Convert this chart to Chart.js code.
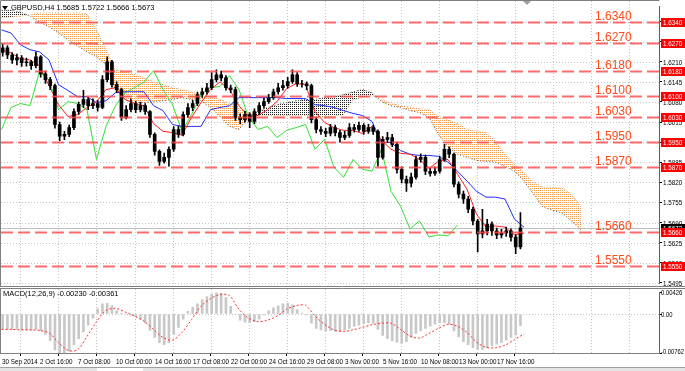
<!DOCTYPE html>
<html lang="en">
<head>
<meta charset="UTF-8" />
<title>GBPUSD,H4</title>
<script src="https://cdn.jsdelivr.net/npm/chart.js"></script>
<style>
  html, body { margin: 0; padding: 0; background: #fff; }
  #wrap { position: relative; width: 685px; height: 371px; overflow: hidden; background: #fff; }
  #priceChart { position: absolute; left: 0; top: 0; }
  #macdChart { position: absolute; left: 0; top: 288px; }
</style>
</head>
<body>
<div id="wrap">
  <canvas id="priceChart" width="685" height="288" style="width:685px;height:288px"></canvas>
  <canvas id="macdChart" width="685" height="83" style="width:685px;height:83px"></canvas>
</div>

<script>
// ---- data ----
const timeLabels = ["30 Sep 2014", "2 Oct 16:00", "7 Oct 08:00", "10 Oct 00:00", "14 Oct 16:00",
  "17 Oct 08:00", "22 Oct 00:00", "24 Oct 16:00", "29 Oct 08:00", "3 Nov 00:00", "5 Nov 16:00",
  "10 Nov 08:00", "13 Nov 00:00", "17 Nov 16:00"];

const priceTicks = [1.6340, 1.6275, 1.6210, 1.6145, 1.6080, 1.6015, 1.5950, 1.5885, 1.5820,
  1.5755, 1.5690, 1.5625, 1.5560, 1.5495];
const levels = [1.6340, 1.6270, 1.6180, 1.6100, 1.6030, 1.5950, 1.5870, 1.5660, 1.5550];
const lastPrice = 1.5673;
const macdTicks = [0.00426, 0, -0.00762];
const macdTickLabels = ["0.00426", "0.00", "-0.00762"];

// one candle = two H4 bars
const opens = [1.6240,1.6255,1.6232,1.6216,1.6223,1.6207,1.6210,1.6197,1.6226,1.6171,
  1.6152,1.6133,1.6007,1.5969,1.5975,1.5997,1.6049,1.6072,1.6088,1.6068,
  1.6075,1.6062,1.6152,1.6210,1.6136,1.6120,1.6030,1.6055,1.6075,1.6055,
  1.6068,1.6049,1.5975,1.5920,1.5888,1.5901,1.5927,1.5991,1.5975,1.6039,
  1.6062,1.6075,1.6104,1.6113,1.6126,1.6152,1.6168,1.6158,1.6126,1.6120,
  1.6030,1.6023,1.6039,1.6017,1.6049,1.6068,1.6081,1.6094,1.6113,1.6126,
  1.6133,1.6146,1.6168,1.6139,1.6139,1.6133,1.6023,1.5991,1.5985,1.5978,
  1.5997,1.5981,1.5965,1.5972,1.5997,1.5991,1.6004,1.5985,1.5997,1.5985,
  1.5901,1.5959,1.5965,1.5943,1.5862,1.5830,1.5817,1.5837,1.5894,1.5901,
  1.5856,1.5849,1.5856,1.5894,1.5927,1.5911,1.5814,1.5782,1.5766,1.5733,
  1.5695,1.5653,1.5663,1.5685,1.5663,1.5650,1.5656,1.5663,1.5643,1.5611];
const highs = [1.6268,1.6262,1.6240,1.6235,1.6230,1.6222,1.6215,1.6242,1.6230,1.6180,
  1.6160,1.6138,1.6015,1.5985,1.6005,1.6058,1.6080,1.6118,1.6095,1.6090,
  1.6085,1.6165,1.6226,1.6215,1.6145,1.6125,1.6068,1.6090,1.6082,1.6080,
  1.6075,1.6052,1.5980,1.5925,1.5915,1.5935,1.6000,1.6002,1.6048,1.6075,
  1.6085,1.6112,1.6125,1.6140,1.6175,1.6184,1.6180,1.6165,1.6135,1.6128,
  1.6042,1.6050,1.6045,1.6058,1.6078,1.6092,1.6105,1.6122,1.6140,1.6150,
  1.6160,1.6184,1.6175,1.6150,1.6145,1.6138,1.6030,1.6000,1.5995,1.6008,
  1.6005,1.5988,1.5985,1.6010,1.6008,1.6015,1.6010,1.6008,1.6005,1.5990,
  1.5968,1.5982,1.5975,1.5950,1.5870,1.5840,1.5850,1.5905,1.5912,1.5908,
  1.5865,1.5870,1.5905,1.5943,1.5935,1.5915,1.5822,1.5792,1.5775,1.5740,
  1.5700,1.5733,1.5700,1.5692,1.5672,1.5668,1.5675,1.5670,1.5650,1.5722];
const lows = [1.6228,1.6220,1.6205,1.6200,1.6195,1.6196,1.6185,1.6190,1.6160,1.6140,
  1.6120,1.5995,1.5955,1.5958,1.5968,1.5990,1.6040,1.6062,1.6055,1.6058,
  1.6050,1.6058,1.6145,1.6128,1.6110,1.6020,1.6025,1.6048,1.6045,1.6048,
  1.6040,1.5965,1.5908,1.5875,1.5882,1.5872,1.5920,1.5965,1.5970,1.6030,
  1.6052,1.6068,1.6095,1.6105,1.6120,1.6145,1.6148,1.6118,1.6110,1.6020,
  1.6010,1.6015,1.5997,1.6010,1.6040,1.6060,1.6075,1.6088,1.6105,1.6118,
  1.6125,1.6140,1.6130,1.6128,1.6120,1.6012,1.5980,1.5975,1.5968,1.5970,
  1.5970,1.5950,1.5958,1.5965,1.5982,1.5985,1.5975,1.5978,1.5975,1.5872,
  1.5895,1.5950,1.5935,1.5850,1.5818,1.5791,1.5805,1.5830,1.5885,1.5845,
  1.5840,1.5842,1.5850,1.5888,1.5900,1.5805,1.5770,1.5752,1.5722,1.5682,
  1.5595,1.5640,1.5650,1.5648,1.5638,1.5640,1.5645,1.5630,1.5589,1.5605];
const closes = [1.6255,1.6232,1.6216,1.6223,1.6207,1.6210,1.6197,1.6226,1.6171,1.6152,
  1.6133,1.6007,1.5969,1.5975,1.5997,1.6049,1.6072,1.6088,1.6068,1.6075,
  1.6062,1.6152,1.6210,1.6136,1.6120,1.6030,1.6055,1.6075,1.6055,1.6068,
  1.6049,1.5975,1.5920,1.5888,1.5901,1.5927,1.5991,1.5975,1.6039,1.6062,
  1.6075,1.6104,1.6113,1.6126,1.6152,1.6168,1.6158,1.6126,1.6120,1.6030,
  1.6023,1.6039,1.6017,1.6049,1.6068,1.6081,1.6094,1.6113,1.6126,1.6133,
  1.6146,1.6168,1.6139,1.6139,1.6133,1.6023,1.5991,1.5985,1.5978,1.5997,
  1.5981,1.5965,1.5972,1.5997,1.5991,1.6004,1.5985,1.5997,1.5985,1.5901,
  1.5959,1.5965,1.5943,1.5862,1.5830,1.5817,1.5837,1.5894,1.5901,1.5856,
  1.5849,1.5856,1.5894,1.5927,1.5911,1.5814,1.5782,1.5766,1.5733,1.5695,
  1.5653,1.5663,1.5685,1.5663,1.5650,1.5656,1.5663,1.5643,1.5611,1.5673];

// ichimoku lines, one point every 4 bars
const tenkan = [1.6249,1.6239,1.6220,1.6216,1.6197,1.6133,1.6071,1.6033,1.6039,1.6062,
  1.6081,1.6120,1.6126,1.6088,1.6075,1.6068,1.6010,1.5985,1.5981,1.5972,
  1.6030,1.6078,1.6120,1.6145,1.6120,1.6068,1.6033,1.6036,1.6055,1.6081,
  1.6123,1.6139,1.6136,1.6049,1.6014,1.5997,1.5988,1.5988,1.5978,1.6001,
  1.5956,1.5927,1.5914,1.5911,1.5894,1.5865,1.5888,1.5894,1.5846,1.5798,
  1.5717,1.5675,1.5679,1.5675,1.5650,1.5656];
const kijun = [1.6313,1.6303,1.6265,1.6249,1.6242,1.6216,1.6136,1.6117,1.6097,1.6097,
  1.6078,1.6084,1.6110,1.6113,1.6113,1.6113,1.6068,1.6052,1.6007,1.6001,
  1.6001,1.6001,1.6055,1.6062,1.6068,1.6094,1.6094,1.6094,1.6094,1.6094,
  1.6091,1.6091,1.6091,1.6071,1.6068,1.6062,1.6052,1.6043,1.6036,1.6017,
  1.5949,1.5949,1.5923,1.5911,1.5907,1.5907,1.5904,1.5885,1.5856,1.5824,
  1.5791,1.5772,1.5772,1.5766,1.5701,1.5675];
const chikou = [1.5991,1.6062,1.6075,1.6068,1.6178,1.6152,1.6055,1.6081,1.6075,1.6055,
  1.5894,1.6001,1.6068,1.6110,1.6126,1.6145,1.6181,1.6120,1.6071,1.5985,
  1.6039,1.6104,1.6126,1.6130,1.6165,1.6120,1.6030,1.5991,1.6001,1.5965,
  1.5988,1.5997,1.6007,1.5927,1.5959,1.5869,1.5836,1.5894,1.5862,1.5856,
  1.5927,1.5791,1.5743,1.5669,1.5695,1.5643,1.5650,1.5647,1.5682];
const senkouA = [1.6377,1.6377,1.6371,1.6358,1.6339,1.6323,1.6303,1.6281,1.6262,1.6242,
  1.6226,1.6200,1.6120,1.6088,1.6078,1.6078,1.6081,1.6084,1.6088,1.6094,
  1.6088,1.6084,1.6062,1.6033,1.6001,1.5991,1.6030,1.6049,1.6062,1.6071,
  1.6078,1.6084,1.6088,1.6088,1.6094,1.6097,1.6104,1.6113,1.6120,1.6110,
  1.6081,1.6068,1.6062,1.6052,1.6046,1.6030,1.5975,1.5933,1.5911,1.5901,
  1.5891,1.5888,1.5885,1.5872,1.5856,1.5824,1.5782,1.5740,1.5730,1.5721,
  1.5695,1.5666];
const senkouB = [1.6352,1.6355,1.6358,1.6361,1.6368,1.6368,1.6368,1.6368,1.6368,1.6365,
  1.6313,1.6249,1.6184,1.6178,1.6168,1.6158,1.6145,1.6136,1.6126,1.6120,
  1.6113,1.6101,1.6097,1.6088,1.6075,1.6062,1.6046,1.6036,1.6036,1.6036,
  1.6036,1.6036,1.6036,1.6033,1.6033,1.6033,1.6039,1.6088,1.6094,1.6101,
  1.6088,1.6075,1.6068,1.6062,1.6058,1.6055,1.6033,1.6023,1.6010,1.5991,
  1.5985,1.5981,1.5952,1.5911,1.5878,1.5850,1.5820,1.5804,1.5804,1.5801,
  1.5782,1.5740];

// MACD(12,26,9): main per candle, signal every 4 bars
const macdMain = [-0.0030,-0.0030,-0.0030,-0.0030,-0.0031,-0.0031,-0.0032,-0.0030,-0.0033,-0.0040,
  -0.0052,-0.0070,-0.0077,-0.0077,-0.0073,-0.0060,-0.0048,-0.0035,-0.0022,-0.0008,
  0.0010,0.0020,0.0021,0.0016,0.0006,0.0002,0.0000,-0.0003,-0.0005,-0.0010,
  -0.0018,-0.0032,-0.0046,-0.0056,-0.0060,-0.0056,-0.0040,-0.0026,-0.0010,0.0005,
  0.0013,0.0020,0.0028,0.0034,0.0039,0.0042,0.0041,0.0032,0.0015,0.0000,
  -0.0012,-0.0016,-0.0017,-0.0015,-0.0010,-0.0002,0.0006,0.0012,0.0016,0.0020,
  0.0021,0.0018,0.0008,0.0002,-0.0002,-0.0018,-0.0028,-0.0031,-0.0033,-0.0032,
  -0.0034,-0.0034,-0.0031,-0.0028,-0.0024,-0.0022,-0.0019,-0.0017,-0.0018,-0.0030,
  -0.0042,-0.0048,-0.0052,-0.0055,-0.0057,-0.0054,-0.0046,-0.0038,-0.0033,-0.0028,
  -0.0024,-0.0020,-0.0017,-0.0017,-0.0020,-0.0033,-0.0045,-0.0054,-0.0060,-0.0066,
  -0.0069,-0.0069,-0.0066,-0.0062,-0.0059,-0.0056,-0.0051,-0.0046,-0.0041,-0.0023];
const macdSignal = [-0.0030,-0.0030,-0.0031,-0.0031,-0.0032,-0.0037,-0.0056,-0.0071,-0.0070,-0.0044,
  -0.0015,0.0007,0.0011,0.0004,-0.0004,-0.0014,-0.0030,-0.0046,-0.0051,-0.0036,
  -0.0011,0.0015,0.0030,0.0038,0.0036,0.0009,-0.0008,-0.0015,-0.0012,-0.0004,
  0.0009,0.0016,0.0017,-0.0004,-0.0020,-0.0031,-0.0034,-0.0031,-0.0026,-0.0021,
  -0.0018,-0.0018,-0.0030,-0.0043,-0.0047,-0.0038,-0.0028,-0.0020,-0.0024,-0.0036,
  -0.0055,-0.0065,-0.0066,-0.0061,-0.0050,-0.0039];

// ---- layout helpers ----
const xMin = -0.21, xMax = 276.84;        // bar index range, 2.375 px per H4 bar
const FONT = '"Liberation Sans", Arial, sans-serif';
const candleX = k => 2 * k + 0.5;
const lineX = k => 4 * k;
const pts = arr => arr.map((v, k) => ({ x: lineX(k), y: v }));

function dots(color) {
  const c = document.createElement('canvas');
  c.width = 2; c.height = 2;
  const g = c.getContext('2d');
  g.fillStyle = color;
  g.fillRect(0, 0, 1, 1);
  return g.createPattern(c, 'repeat');
}

// small, slightly condensed text (the original uses a narrow UI font)
function smallText(ctx, txt, x, y, color, squeeze) {
  ctx.save();
  ctx.font = '7.5px ' + FONT;
  ctx.fillStyle = color || '#000';
  ctx.textBaseline = 'middle';
  ctx.translate(x, y);
  ctx.scale(squeeze || 0.84, 1);
  ctx.fillText(txt, 0, 0);
  ctx.restore();
}

function vGrid(ctx, x, top, bottom) {
  ctx.save();
  ctx.strokeStyle = '#c4c4c4';
  ctx.lineWidth = 1;
  ctx.setLineDash([1, 2]);
  for (let i = 8; i < xMax; i += 16) {
    const px = Math.round(x.getPixelForValue(i)) + 0.5;
    ctx.beginPath(); ctx.moveTo(px, top); ctx.lineTo(px, bottom); ctx.stroke();
  }
  ctx.restore();
}

function lineDs(data, color, order, extra) {
  return Object.assign({ type: 'line', data: pts(data), borderColor: color, borderWidth: 1,
    pointRadius: 0, fill: false, tension: 0, order: order }, extra || {});
}

// ---- price pane ----
const priceDecor = {
  id: 'priceDecor',
  beforeDatasetsDraw(chart) {
    const { ctx, chartArea: a, scales: { x, y } } = chart;
    ctx.save();
    ctx.strokeStyle = '#c4c4c4';
    ctx.lineWidth = 1;
    ctx.setLineDash([1, 2]);
    priceTicks.forEach(v => {
      const py = Math.round(y.getPixelForValue(v)) + 0.5;
      ctx.beginPath(); ctx.moveTo(a.left, py); ctx.lineTo(a.right, py); ctx.stroke();
    });
    ctx.restore();
    vGrid(ctx, x, 1, 286);
    // bid line
    ctx.save();
    const by = Math.round(y.getPixelForValue(lastPrice)) + 0.5;
    ctx.strokeStyle = '#c0c0c0';
    ctx.beginPath(); ctx.moveTo(a.left, by); ctx.lineTo(a.right, by); ctx.stroke();
    ctx.restore();
  },
  afterDatasetsDraw(chart) {
    const { ctx, chartArea: a, scales: { y } } = chart;
    ctx.save();
    levels.forEach(v => {
      const py = Math.round(y.getPixelForValue(v)) + 0.5;
      ctx.strokeStyle = 'rgba(255,70,70,0.8)';
      ctx.lineWidth = 2;
      ctx.setLineDash([12, 5]);
      ctx.beginPath(); ctx.moveTo(a.left, py); ctx.lineTo(a.right, py); ctx.stroke();
      ctx.fillStyle = '#ff4a1a';
      ctx.font = '12px ' + FONT;
      ctx.textBaseline = 'alphabetic';
      ctx.fillText(v.toFixed(4), 595, py - 2.5);
    });
    ctx.restore();
  },
  afterDraw(chart) {
    const { ctx, scales: { y } } = chart;
    ctx.save();
    // frame
    ctx.strokeStyle = '#808080';
    ctx.lineWidth = 1;
    ctx.beginPath();
    ctx.moveTo(0.5, 286.5); ctx.lineTo(0.5, 0.5); ctx.lineTo(659.5, 0.5);
    ctx.moveTo(0, 286.5); ctx.lineTo(685, 286.5);
    ctx.stroke();
    // header
    ctx.fillStyle = '#000';
    ctx.beginPath(); ctx.moveTo(2, 6); ctx.lineTo(8, 6); ctx.lineTo(5, 10); ctx.closePath(); ctx.fill();
    ctx.font = '7.5px ' + FONT;
    ctx.textBaseline = 'middle';
    ctx.fillText('GBPUSD,H4 1.5685 1.5722 1.5666 1.5673', 11, 8);
    // chart shift marker
    ctx.fillStyle = '#a0a0a0';
    ctx.beginPath(); ctx.moveTo(523, 1); ctx.lineTo(531, 1); ctx.lineTo(527, 5); ctx.closePath(); ctx.fill();
    // price scale labels
    priceTicks.forEach(v => smallText(ctx, v.toFixed(4), 663, Math.round(y.getPixelForValue(v)) + 0.5));
    // bid label
    const by = Math.round(y.getPixelForValue(lastPrice));
    ctx.fillStyle = '#000';
    ctx.fillRect(661, by - 4, 24, 9);
    smallText(ctx, lastPrice.toFixed(4), 663, by + 0.5, '#fff');
    // level labels
    levels.forEach(v => {
      const py = Math.round(y.getPixelForValue(v));
      ctx.fillStyle = '#ff0000';
      ctx.fillRect(661, py - 4, 24, 9);
      smallText(ctx, v.toFixed(4), 663, py + 0.5, '#fff');
    });
    ctx.restore();
  }
};

const wicks = highs.map((h, k) => ({ x: candleX(k), y: [lows[k], h] }));
const bodies = opens.map((o, k) => ({ x: candleX(k), y: [Math.min(o, closes[k]), Math.max(o, closes[k])] }));

new Chart(document.getElementById('priceChart'), {
  type: 'bar',
  data: {
    datasets: [
      { data: bodies, backgroundColor: '#000', barThickness: 3, grouped: false, order: 1 },
      { data: wicks, backgroundColor: '#000', barThickness: 1, grouped: false, order: 2 },
      lineDs(tenkan, '#ff2020', 3),
      lineDs(kijun, '#2030ff', 4),
      lineDs(chikou, '#33e033', 5),
      lineDs(senkouA, '#555555', 6, {
        borderDash: [1, 2],
        fill: { target: '+1', above: dots('#202020'), below: dots('#f4a050') }
      }),
      lineDs(senkouB, '#f4a050', 7, { borderDash: [1, 2] })
    ]
  },
  options: {
    responsive: false,
    animation: false,
    events: [],
    layout: { padding: { left: 1, top: 6, right: 0, bottom: 3 } },
    plugins: { legend: { display: false }, tooltip: { enabled: false } },
    scales: {
      x: { type: 'linear', min: xMin, max: xMax, offset: false, display: false },
      y: {
        position: 'right', min: 1.54918, max: 1.63904,
        afterBuildTicks: s => { s.ticks = priceTicks.map(v => ({ value: v })); },
        afterFit: s => { s.width = 26; },
        ticks: { autoSkip: false, padding: 0, font: { size: 7, family: FONT }, callback: () => '' },
        grid: { drawOnChartArea: false, tickLength: 3, color: '#000' },
        border: { color: '#606060' }
      }
    }
  },
  plugins: [priceDecor]
});

// ---- MACD pane ----
const macdDecor = {
  id: 'macdDecor',
  beforeDatasetsDraw(chart) {
    const { ctx, chartArea: a, scales: { x, y } } = chart;
    vGrid(ctx, x, 1, a.bottom);
    ctx.save();
    ctx.strokeStyle = '#c4c4c4';
    ctx.setLineDash([1, 2]);
    const zy = Math.round(y.getPixelForValue(0)) + 0.5;
    ctx.beginPath(); ctx.moveTo(a.left, zy); ctx.lineTo(a.right, zy); ctx.stroke();
    ctx.restore();
  },
  afterDraw(chart) {
    const { ctx, chartArea: a, scales: { x, y } } = chart;
    ctx.save();
    ctx.strokeStyle = '#808080';
    ctx.lineWidth = 1;
    ctx.beginPath();
    ctx.moveTo(0, 0.5); ctx.lineTo(685, 0.5);
    ctx.moveTo(0.5, 0); ctx.lineTo(0.5, a.bottom);
    ctx.moveTo(0, a.bottom + 0.5); ctx.lineTo(660, a.bottom + 0.5);
    ctx.stroke();
    ctx.fillStyle = '#000';
    ctx.font = '7.5px ' + FONT;
    ctx.textBaseline = 'middle';
    ctx.fillText('MACD(12,26,9) -0.00230 -0.00361', 3, 6);
    // axis labels
    timeLabels.forEach((t, m) => smallText(ctx, t, Math.round(x.getPixelForValue(16 * m)) + 1, a.bottom + 9));
    macdTicks.forEach((v, i) => {
      const py = Math.min(Math.max(Math.round(y.getPixelForValue(v)) + 0.5, 5), a.bottom - 1);
      smallText(ctx, macdTickLabels[i], 661, py, '#000', 0.78);
    });
    // tab strip
    ctx.fillStyle = '#e4e4e4';
    ctx.fillRect(0, 79, 685, 4);
    ctx.strokeStyle = '#a0a0a0';
    ctx.beginPath(); ctx.moveTo(0, 79.5); ctx.lineTo(685, 79.5); ctx.stroke();
    ctx.fillStyle = '#fff';
    ctx.fillRect(97, 80, 46, 3);
    ctx.restore();
  }
};

new Chart(document.getElementById('macdChart'), {
  type: 'bar',
  data: {
    datasets: [
      { type: 'line', data: pts(macdSignal), borderColor: '#ff3030', borderWidth: 1, borderDash: [2, 2],
        pointRadius: 0, fill: false, tension: 0.3, order: 1 },
      { data: macdMain.map((v, k) => ({ x: candleX(k), y: v })), backgroundColor: '#c8c8c8',
        barThickness: 2, grouped: false, order: 2 }
    ]
  },
  options: {
    responsive: false,
    animation: false,
    events: [],
    layout: { padding: { left: 1, top: 4, right: 0, bottom: 0 } },
    plugins: { legend: { display: false }, tooltip: { enabled: false } },
    scales: {
      x: {
        type: 'linear', min: xMin, max: xMax, offset: false, position: 'bottom',
        afterBuildTicks: s => { s.ticks = timeLabels.map((t, m) => ({ value: 16 * m })); },
        afterFit: s => { s.height = 18; },
        ticks: { autoSkip: false, maxRotation: 0, minRotation: 0, padding: 0,
          font: { size: 7, family: FONT }, callback: () => '' },
        grid: { drawOnChartArea: false, tickLength: 3, color: '#000' },
        border: { color: '#606060' }
      },
      y: {
        position: 'right', min: -0.00762, max: 0.00426,
        afterBuildTicks: s => { s.ticks = macdTicks.map(v => ({ value: v })); },
        afterFit: s => { s.width = 26; },
        ticks: { autoSkip: false, padding: 0, font: { size: 7, family: FONT }, callback: () => '' },
        grid: { drawOnChartArea: false, tickLength: 3, color: '#000' },
        border: { color: '#606060' }
      }
    }
  },
  plugins: [macdDecor]
});
</script>
</body>
</html>
